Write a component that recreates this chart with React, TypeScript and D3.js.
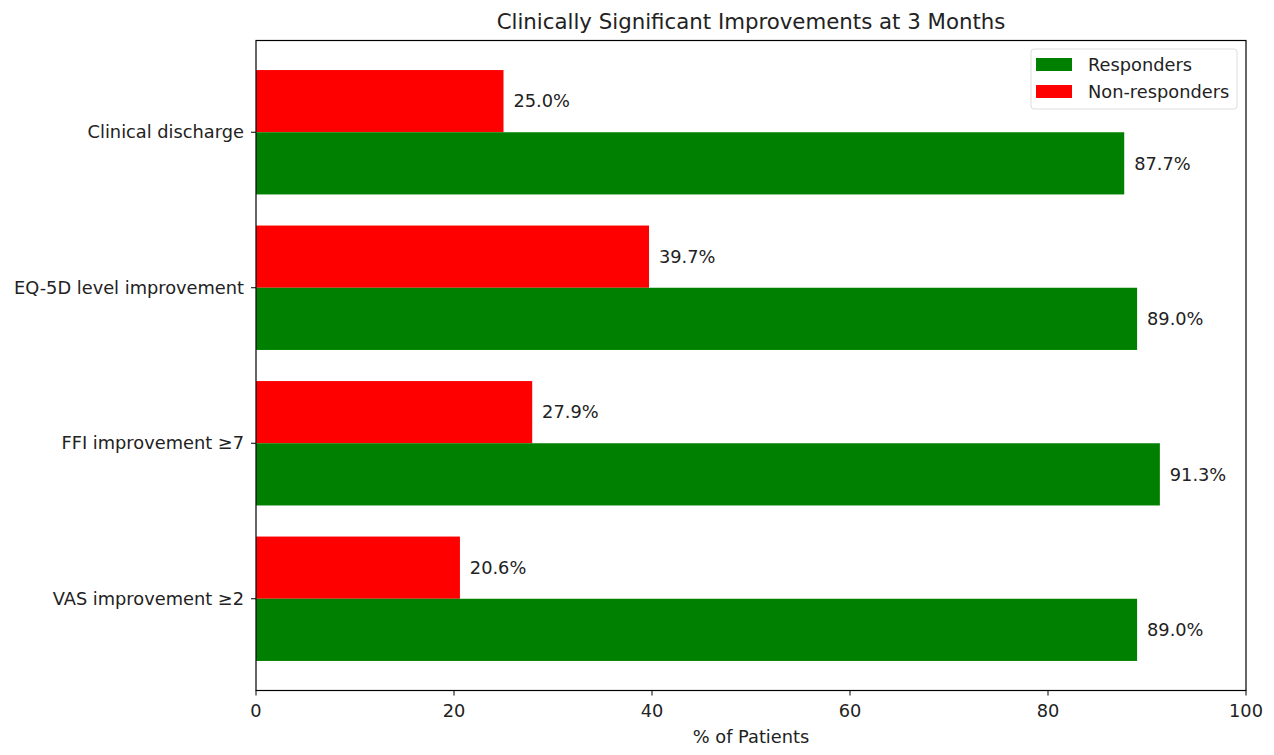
import React from "react";
import * as d3 from "d3";

const categories = ["VAS improvement ≥2", "FFI improvement ≥7", "EQ-5D level improvement", "Clinical discharge"];
const responders = [89.0, 91.3, 89.0, 87.7];
const nonResponders = [20.6, 27.9, 39.7, 25.0];
const xTicks = [0, 20, 40, 60, 80, 100];
const seriesNames = ["Responders", "Non-responders"];
const seriesColors = ["#008000", "#ff0000"];

const W = 1274;
const H = 755;
const left = 256, right = 1246, top = 40.5, bottom = 690.5;
const font = "DejaVu Sans, sans-serif";
const fs = 17.8;
const txt = "#222";

export default function App() {
  const x = d3.scaleLinear().domain([0, 100]).range([left, right]);
  const y = d3.scaleLinear().domain([-0.59, 3.59]).range([bottom, top]);
  const barH = y(0) - y(0.4);

  return (
    <svg width={W} height={H} style={{ position: "absolute", left: 0, top: 0, background: "#fff" }}>
      <text x={(left + right) / 2} y={29} textAnchor="middle" fontFamily={font} fontSize={21.3} fill={txt}>
        Clinically Significant Improvements at 3 Months
      </text>
      {categories.map((c, i) => (
        <g key={c}>
          <rect x={x(0)} y={y(i + 0.4)} width={x(nonResponders[i]) - x(0)} height={barH} fill={seriesColors[1]} />
          <rect x={x(0)} y={y(i)} width={x(responders[i]) - x(0)} height={barH} fill={seriesColors[0]} />
          <text x={x(nonResponders[i] + 1)} y={y(i + 0.2)} dy="0.35em" fontFamily={font} fontSize={fs} fill={txt}>
            {nonResponders[i].toFixed(1)}%
          </text>
          <text x={x(responders[i] + 1)} y={y(i - 0.2)} dy="0.35em" fontFamily={font} fontSize={fs} fill={txt}>
            {responders[i].toFixed(1)}%
          </text>
          <line x1={left - 5} x2={left} y1={y(i)} y2={y(i)} stroke="#000" strokeWidth={1} />
          <text x={left - 12} y={y(i)} dy="0.35em" textAnchor="end" fontFamily={font} fontSize={fs} fill={txt}>
            {c}
          </text>
        </g>
      ))}
      <rect x={left} y={top} width={right - left} height={bottom - top} fill="none" stroke="#000" strokeWidth={1.2} />
      {xTicks.map((t) => (
        <g key={t}>
          <line x1={x(t)} x2={x(t)} y1={bottom} y2={bottom + 5} stroke="#000" strokeWidth={1} />
          <text x={x(t)} y={bottom + 26} textAnchor="middle" fontFamily={font} fontSize={fs} fill={txt}>
            {t}
          </text>
        </g>
      ))}
      <text x={(left + right) / 2} y={743} textAnchor="middle" fontFamily={font} fontSize={fs} fill={txt}>
        % of Patients
      </text>
      <g>
        <rect x={1031} y={49} width={206} height={60} rx={3} fill="#fff" stroke="#ddd" strokeWidth={1} />
        {seriesNames.map((s, i) => (
          <g key={s}>
            <rect x={1036} y={58 + i * 27} width={36} height={13} fill={seriesColors[i]} />
            <text x={1088} y={64.5 + i * 27} dy="0.35em" fontFamily={font} fontSize={fs} fill={txt}>
              {s}
            </text>
          </g>
        ))}
      </g>
    </svg>
  );
}
